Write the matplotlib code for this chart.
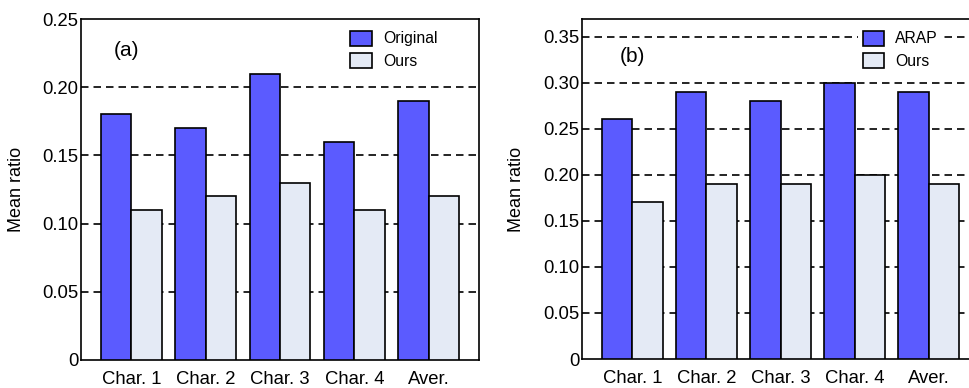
import matplotlib
matplotlib.use("Agg")
import matplotlib.pyplot as plt
import numpy as np

plt.rcParams['font.family'] = ['Liberation Sans', 'DejaVu Sans']

categories = ["Char. 1", "Char. 2", "Char. 3", "Char. 4", "Aver."]
a_original = [0.18, 0.17, 0.21, 0.16, 0.19]
a_ours = [0.11, 0.12, 0.13, 0.11, 0.12]
b_arap = [0.26, 0.29, 0.28, 0.30, 0.29]
b_ours = [0.17, 0.19, 0.19, 0.20, 0.19]
a_yticks = [0, 0.05, 0.10, 0.15, 0.20, 0.25]
a_yticklabels = ["0", "0.05", "0.10", "0.15", "0.20", "0.25"]
b_yticks = [0, 0.05, 0.10, 0.15, 0.20, 0.25, 0.30, 0.35]
b_yticklabels = ["0", "0.05", "0.10", "0.15", "0.20", "0.25", "0.30", "0.35"]

BLUE = "#5B5BFF"
LIGHT = "#E4EAF5"

fig = plt.figure(figsize=(9.69, 3.88), dpi=100)
ax1 = fig.add_axes([81/969, 28/388, 398/969, 341/388])
ax2 = fig.add_axes([582/969, 29/388, 397/969, 340/388])

def draw(ax, s1, s2, names, yticks, yticklabels, ylim, panel, ptxt, legpos):
    x = np.arange(len(categories))
    w = 0.41
    ax.bar(x - w/2, s1, w, color=BLUE, edgecolor="black", linewidth=1.2, label=names[0], zorder=3)
    ax.bar(x + w/2, s2, w, color=LIGHT, edgecolor="black", linewidth=1.2, label=names[1], zorder=3)
    ax.set_xlim(-0.68, 4.68)
    ax.set_ylim(0, ylim)
    ax.set_xticks(x)
    ax.set_xticklabels(categories, fontsize=13.3)
    ax.set_yticks(yticks)
    ax.set_yticklabels(yticklabels, fontsize=13.3)
    ax.tick_params(axis='both', length=0)
    ax.tick_params(axis='x', pad=8)
    ax.tick_params(axis='y', pad=2)
    for t in yticks:
        if 0 < t < ylim - 1e-9:
            ax.axhline(t, color="black", linewidth=1.2, dashes=(4.5, 3), zorder=1)
    for sp in ax.spines.values():
        sp.set_linewidth(1.2)
    ax.set_ylabel("Mean ratio", fontsize=13)
    ax.text(ptxt[0], ptxt[1], panel, transform=ax.transAxes, fontsize=15, va='center', ha='left')
    leg = ax.legend(loc='upper left', bbox_to_anchor=legpos, frameon=True, fontsize=11.3,
                    borderpad=0.3, borderaxespad=0, handlelength=1.37, handleheight=1.12,
                    handletextpad=0.7, labelspacing=0.4, fancybox=False)
    leg.get_frame().set_facecolor("white")
    leg.get_frame().set_edgecolor("none")
    leg.get_frame().set_alpha(1)
    leg.set_zorder(5)

draw(ax1, a_original, a_ours, ["Original", "Ours"], a_yticks, a_yticklabels, 0.25,
     "(a)", (0.083, 0.909), (0.665, 0.98))
draw(ax2, b_arap, b_ours, ["ARAP", "Ours"], b_yticks, b_yticklabels, 0.369,
     "(b)", (0.096, 0.889), (0.695, 0.98))
ax1.yaxis.set_label_coords(-0.141, 0.5)
ax2.yaxis.set_label_coords(-0.144, 0.5)

fig.savefig("out.png", dpi=100)
